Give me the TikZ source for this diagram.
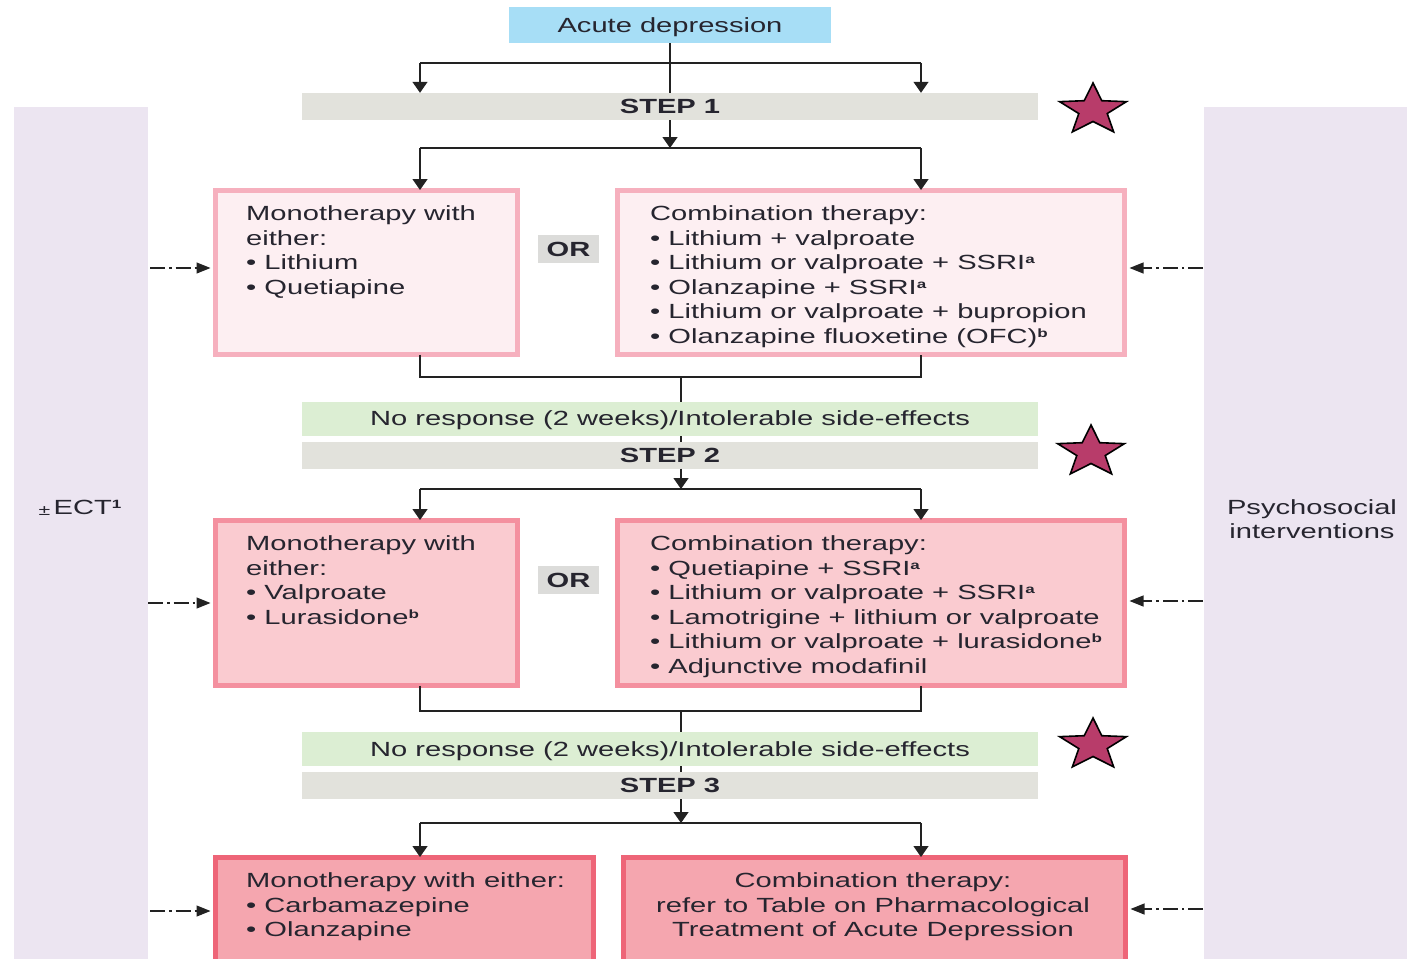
\documentclass[tikz,border=0pt]{standalone}
\usepackage{fontspec}
\setmainfont[FakeStretch=1.42]{Liberation Sans}
\usetikzlibrary{arrows.meta}

\definecolor{bandcol}{HTML}{ECE5F1}
\definecolor{stepcol}{HTML}{E2E2DC}
\definecolor{nrcol}{HTML}{DCEED3}
\definecolor{orcol}{HTML}{DCDCDA}
\definecolor{acutecol}{HTML}{A7DEF6}
\definecolor{fillA}{HTML}{FDEFF2}
\definecolor{edgeA}{HTML}{F6B0BE}
\definecolor{fillB}{HTML}{FACBD0}
\definecolor{edgeB}{HTML}{F4909F}
\definecolor{fillC}{HTML}{F5A6AF}
\definecolor{edgeC}{HTML}{EE6578}
\definecolor{starcol}{HTML}{B83C6A}
\definecolor{ink}{HTML}{26252F}
\definecolor{linecol}{HTML}{222222}

% small raised footnote letter
\newcommand{\fnmark}[1]{\raisebox{6pt}{\fontsize{12}{12}\selectfont\bfseries #1}}

\begin{document}
\begin{tikzpicture}[x=1pt,y=-1pt,
  every node/.style={text=ink, font=\fontsize{20.5}{24.5}\selectfont, inner sep=0pt},
  oneline/.style={text height=14.8pt, text depth=0pt},
  bar/.style={oneline, fill=stepcol, minimum width=736, minimum height=27},
  nrbar/.style={oneline, fill=nrcol, minimum width=736, minimum height=34},
  band/.style={fill=bandcol, anchor=north west},
  orbox/.style={oneline, fill=orcol, minimum width=61, minimum height=28, font=\fontsize{20.5}{24.5}\selectfont\bfseries},
  boxA/.style={draw=edgeA, fill=fillA, line width=5pt},
  boxB/.style={draw=edgeB, fill=fillB, line width=5pt},
  boxC/.style={draw=edgeC, fill=fillC, line width=5pt},
  txt/.style={anchor=north west, align=left},
  conn/.style={draw=linecol, line width=1.4pt},
  down/.style={conn, -{Triangle[length=11pt,width=15pt]}},
  side/.style={draw=linecol, line width=1.2pt, dash pattern=on 15pt off 4pt on 2.5pt off 4pt,
    -{Triangle[length=14pt,width=11pt]}},
  starshape/.style={fill=starcol, draw=black, line width=1.6pt, line join=miter}
]
\clip (0,0) rectangle (1407,958);

% side columns
\node[band, minimum width=134, minimum height=860] (leftband) at (14,107) {};
\node[band, minimum width=210, minimum height=860] (rightband) at (1204,107) {};
\node[oneline] (ect) at (80,507) {\raisebox{-1pt}{\fontsize{15}{15}\selectfont ±}\,ECT\fnmark{1}};
\node[align=center] (psy) at (1312,519) {Psychosocial\\interventions};

% junction points of the connectors
\coordinate (t0l) at (420,63);   \coordinate (t0r) at (921,63);
\coordinate (j1) at (670,148);   \coordinate (j1l) at (420,148); \coordinate (j1r) at (921,148);
\coordinate (k1) at (681,377);   \coordinate (k1l) at (420,377); \coordinate (k1r) at (921,377);
\coordinate (j2) at (681,489);   \coordinate (j2l) at (420,489); \coordinate (j2r) at (921,489);
\coordinate (k2) at (681,711);   \coordinate (k2l) at (420,711); \coordinate (k2r) at (921,711);
\coordinate (j3) at (681,823);   \coordinate (j3l) at (420,823); \coordinate (j3r) at (921,823);

% title
\node[oneline, fill=acutecol, minimum width=322, minimum height=36] (acute) at (670,25) {Acute depression};

% lines that run behind the bars
\draw[conn] (acute.south) -- (acute.south |- 0,105);
\draw[conn] (k1) -- (k1 |- 0,455);
\draw[conn] (k2) -- (k2 |- 0,785);

% step bars
\node[bar] (step1) at (670,106.5) {\bfseries STEP 1};
\node[nrbar] (nr1) at (670,418.5) {No response (2 weeks)/Intolerable side-effects};
\node[bar] (step2) at (670,455) {\bfseries STEP 2};
\node[nrbar] (nr2) at (670,749) {No response (2 weeks)/Intolerable side-effects};
\node[bar] (step3) at (670,785.5) {\bfseries STEP 3};

% treatment boxes
\node[boxA, minimum width=302, minimum height=164] (b1l) at (366.5,272.5) {};
\node[boxA, minimum width=507, minimum height=164] (b1r) at (871,272.5) {};
\node[boxB, minimum width=302, minimum height=165] (b2l) at (366.5,603) {};
\node[boxB, minimum width=507, minimum height=165] (b2r) at (871,603) {};
\node[boxC, minimum width=378, minimum height=120] (b3l) at (404.5,917.5) {};
\node[boxC, minimum width=502, minimum height=120] (b3r) at (874.5,917.5) {};

\node[orbox] (or1) at (568.5,249) {OR};
\node[orbox] (or2) at (568.5,580) {OR};

% box texts
\node[txt] (t1l) at (246,205.5) {Monotherapy with\\either:\\• Lithium\\• Quetiapine};
\node[txt] (t1r) at (650,205.5) {Combination therapy:\\• Lithium + valproate\\• Lithium or valproate + SSRI\fnmark{a}\\• Olanzapine + SSRI\fnmark{a}\\• Lithium or valproate + bupropion\\• Olanzapine fluoxetine (OFC)\fnmark{b}};
\node[txt] (t2l) at (246,535.5) {Monotherapy with\\either:\\• Valproate\\• Lurasidone\fnmark{b}};
\node[txt] (t2r) at (650,535.5) {Combination therapy:\\• Quetiapine + SSRI\fnmark{a}\\• Lithium or valproate + SSRI\fnmark{a}\\• Lamotrigine + lithium or valproate\\• Lithium or valproate + lurasidone\fnmark{b}\\• Adjunctive modafinil};
\node[txt] (t3l) at (246,872.5) {Monotherapy with either:\\• Carbamazepine\\• Olanzapine};
\node[anchor=north, align=center] (t3r) at (873,872.5) {Combination therapy:\\refer to Table on Pharmacological\\Treatment of Acute Depression};

% connectors: start
\draw[conn] (t0l) -- (t0r);
\draw[down] (t0l) -- (t0l |- step1.north);
\draw[down] (t0r) -- (t0r |- step1.north);

% step 1
\draw[down] (step1.south) -- (j1);
\draw[conn] (j1l) -- (j1r);
\draw[down] (j1l) -- ([yshift=-2pt]j1l |- b1l.north);
\draw[down] (j1r) -- ([yshift=-2pt]j1r |- b1r.north);
\draw[conn] ([yshift=2.5pt]k1l |- b1l.south) -- (k1l) -- (k1r) -- ([yshift=2.5pt]k1r |- b1r.south);

% step 2
\draw[down] (j2 |- step2.south) -- (j2);
\draw[conn] (j2l) -- (j2r);
\draw[down] (j2l) -- ([yshift=-2pt]j2l |- b2l.north);
\draw[down] (j2r) -- ([yshift=-2pt]j2r |- b2r.north);
\draw[conn] ([yshift=2.5pt]k2l |- b2l.south) -- (k2l) -- (k2r) -- ([yshift=2.5pt]k2r |- b2r.south);

% step 3
\draw[down] (j3 |- step3.south) -- (j3);
\draw[conn] (j3l) -- (j3r);
\draw[down] (j3l) -- ([yshift=-2pt]j3l |- b3l.north);
\draw[down] (j3r) -- ([yshift=-2pt]j3r |- b3r.north);

% side inputs
\coordinate (sl1) at (150,268); \coordinate (sl2) at (148,603); \coordinate (sl3) at (150,911);
\coordinate (sr1) at (1203,268); \coordinate (sr2) at (1203,601); \coordinate (sr3) at (1203,909);
\draw[side] (sl1) -- ([xshift=-2.5pt]sl1 -| b1l.west);
\draw[side] (sl2) -- ([xshift=-2.5pt]sl2 -| b2l.west);
\draw[side] (sl3) -- ([xshift=-2.5pt]sl3 -| b3l.west);
\draw[side] (sr1) -- ([xshift=2.5pt]sr1 -| b1r.east);
\draw[side] (sr2) -- ([xshift=2.5pt]sr2 -| b2r.east);
\draw[side] (sr3) -- ([xshift=2.5pt]sr3 -| b3r.east);

% stars
\foreach \cx/\cy in {1093/110, 1091/452, 1093/745}{
  \draw[starshape, shift={(\cx,\cy)}, xscale=1.3]
    (-90:27) -- (-54:11.5) -- (-18:27) -- (18:11.5) -- (54:27) -- (90:11.5)
    -- (126:27) -- (162:11.5) -- (198:27) -- (234:11.5) -- cycle;
}
\end{tikzpicture}
\end{document}
